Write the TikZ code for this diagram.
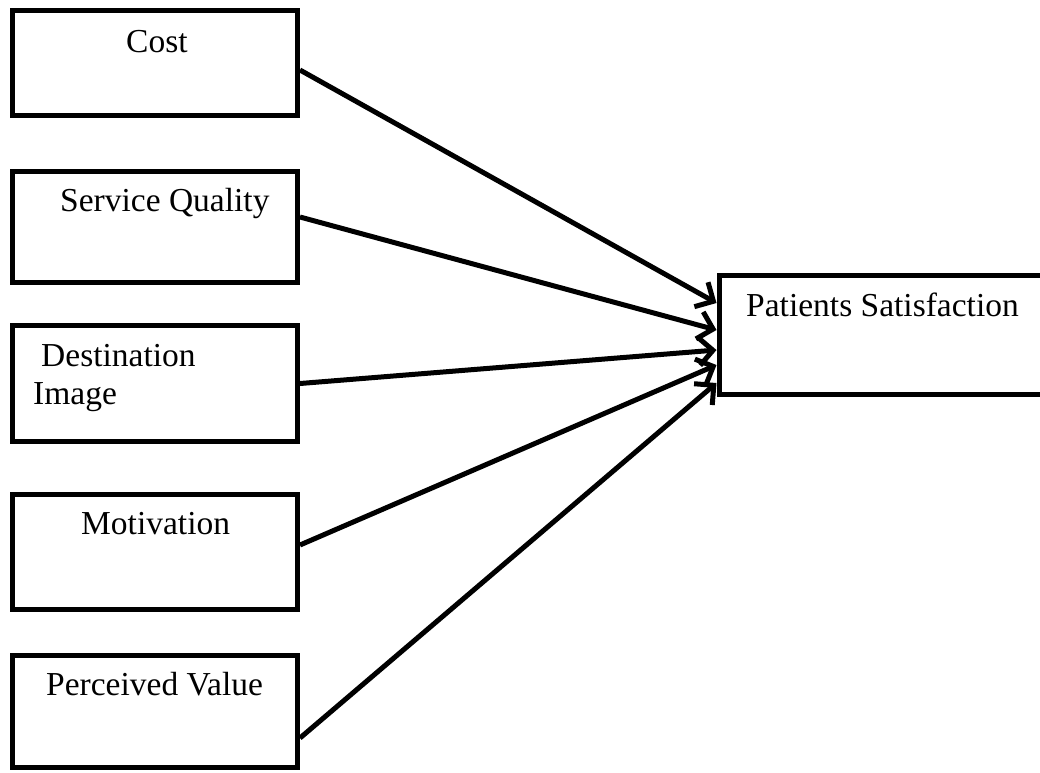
\documentclass[tikz,border=0pt]{standalone}
\usepackage{fontspec}
\setmainfont{Liberation Serif}
\usetikzlibrary{arrows.meta}
\begin{document}
\begin{tikzpicture}[x=1pt,y=-1pt,
  box/.style={draw,line width=5pt,rectangle,inner sep=0pt,minimum width=285pt},
  lbl/.style={anchor=base west,inner sep=0pt,font=\fontsize{33.5}{38}\selectfont},
  arr/.style={line width=5pt,-{Straight Barb[length=14pt,width=28pt,line width=5pt]}}]
\clip (0,0) rectangle (1040,772);
\useasboundingbox (0,0) rectangle (1040,772);
\fill[white] (0,0) rectangle (1040,772);
\node[box,minimum height=105pt] (cost) at (155,63) {};
\node[box,minimum height=111pt] (sq) at (155,227) {};
\node[box,minimum height=116pt] (di) at (155,383.5) {};
\node[box,minimum height=115pt] (mo) at (155,552) {};
\node[box,minimum height=112pt] (pv) at (155,711.5) {};
\node[box,minimum width=341pt,minimum height=119pt] (ps) at (889.5,335) {};
\node[lbl] (tcost) at (126,52) {Cost};
\node[lbl] (tsq) at (60,211) {Service Quality};
\node[lbl] (tdi1) at (41,366) {Destination};
\node[lbl] (tdi2) at (33,404) {Image};
\node[lbl] (tmo) at (81,534) {Motivation};
\node[lbl] (tpv) at (46,695) {Perceived Value};
\node[lbl] (tps) at (746,316) {Patients Satisfaction};
\draw[arr] ([yshift=-7pt]cost.east) -- ([yshift=32pt]ps.west);
\draw[arr] ([yshift=10pt]sq.east) -- ([yshift=5pt]ps.west);
\draw[arr] (di.east) -- ([yshift=-15pt]ps.west);
\draw[arr] ([yshift=7pt]mo.east) -- ([yshift=-30pt]ps.west);
\draw[arr] ([yshift=-26.5pt]pv.east) -- ([yshift=-48pt]ps.west);
\end{tikzpicture}
\end{document}
